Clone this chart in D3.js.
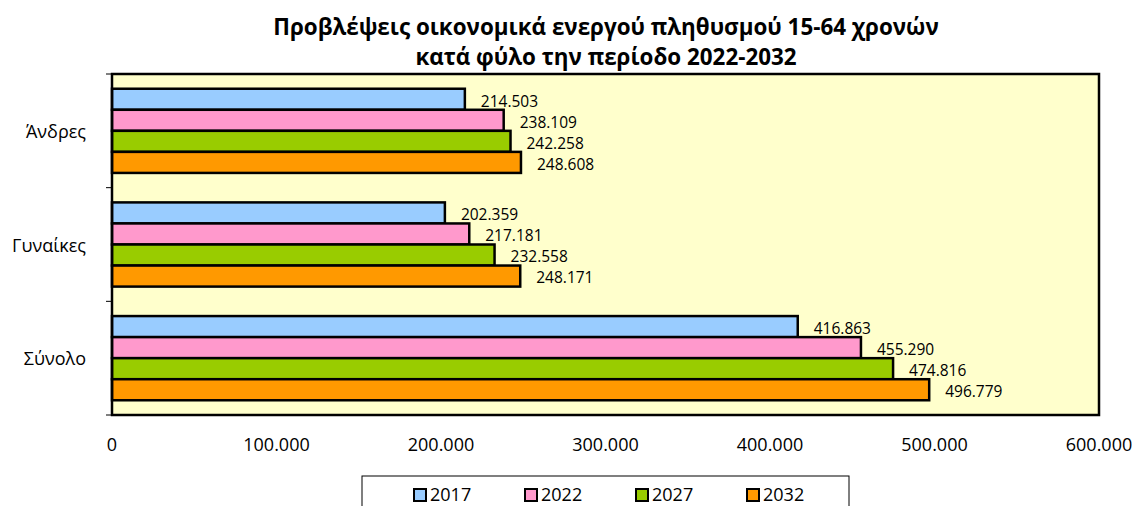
<!DOCTYPE html>
<html lang="el">
<head>
<meta charset="UTF-8">
<title>Προβλέψεις οικονομικά ενεργού πληθυσμού</title>
<script src="https://d3js.org/d3.v7.min.js"></script>
<style>
  body { margin: 0; background: #fff; }
  text { font-family: "Open Sans", "Noto Sans", sans-serif; fill: #000; }
</style>
</head>
<body>
<script>

// data
var categories = ["Άνδρες", "Γυναίκες", "Σύνολο"];
var years = ["2017", "2022", "2027", "2032"];
var v2017 = [214503, 202359, 416863];
var v2022 = [238109, 217181, 455290];
var v2027 = [242258, 232558, 474816];
var v2032 = [248608, 248171, 496779];
var xTicks = [0, 100000, 200000, 300000, 400000, 500000, 600000];
var colors = ["#99ccff", "#ff99cc", "#99cc00", "#ff9900"];

var seriesValues = [v2017, v2022, v2027, v2032];

var width = 1137,
    height = 506,
    plotL = 112, plotR = 1099, plotT = 74, plotB = 415;

var fmt = function(v) {
    return d3.format(",")(v).replace(/,/g, ".");
};
var fmtTick = function(v) {
    return v === 0 ? "0" : d3.format(",.0f")(v).replace(/,/g, ".");
};

var svg = d3.select("body").append("svg")
    .attr("width", width)
    .attr("height", height);

// title
var title = svg.append("text")
    .attr("text-anchor", "middle")
    .style("font-size", "22.4px")
    .style("font-weight", "bold");
title.append("tspan").attr("x", 606).attr("y", 35)
    .text("Προβλέψεις οικονομικά ενεργού πληθυσμού 15-64 χρονών");
title.append("tspan").attr("x", 606).attr("y", 65)
    .text("κατά φύλο την περίοδο 2022-2032");

var x = d3.scaleLinear().domain([0, 600000]).range([plotL, plotR]);
var y = d3.scaleBand().domain(categories).range([plotT, plotB]).paddingInner(0).paddingOuter(0);
var y1 = d3.scaleBand().domain(years).range([0, y.bandwidth()]).paddingOuter(0.7).paddingInner(0);

// plot area
svg.append("rect")
    .attr("x", plotL).attr("y", plotT)
    .attr("width", plotR - plotL).attr("height", plotB - plotT)
    .attr("fill", "#ffffcc");

// bars
var groups = svg.selectAll("g.cat")
    .data(categories)
    .enter().append("g")
    .attr("class", "cat")
    .attr("transform", function(d) { return "translate(0," + y(d) + ")"; });

groups.each(function(c, ci) {
    var g = d3.select(this);
    var rows = years.map(function(yr, si) {
        return { year: yr, value: seriesValues[si][ci], color: colors[si] };
    });
    g.selectAll("rect")
        .data(rows)
        .enter().append("rect")
        .attr("x", x(0))
        .attr("y", function(d) { return y1(d.year); })
        .attr("width", function(d) { return x(d.value) - x(0); })
        .attr("height", y1.bandwidth())
        .attr("fill", function(d) { return d.color; })
        .attr("stroke", "#000")
        .attr("stroke-width", 2.5);
    g.selectAll("text.lbl")
        .data(rows)
        .enter().append("text")
        .attr("class", "lbl")
        .attr("x", function(d) { return x(d.value) + 16; })
        .attr("y", function(d) { return y1(d.year) + y1.bandwidth() / 2 + 2; })
        .attr("dy", "0.35em")
        .style("font-size", "15.5px")
        .text(function(d) { return fmt(d.value); });
});

// plot border
svg.append("rect")
    .attr("x", plotL).attr("y", plotT)
    .attr("width", plotR - plotL).attr("height", plotB - plotT)
    .attr("fill", "none")
    .attr("stroke", "#000")
    .attr("stroke-width", 2.5);

// y axis ticks
var yTickPos = [plotT].concat(categories.map(function(c) { return y(c) + y.bandwidth(); }));
svg.selectAll("line.ytick")
    .data(yTickPos)
    .enter().append("line")
    .attr("x1", plotL - 6).attr("x2", plotL)
    .attr("y1", function(d) { return d; })
    .attr("y2", function(d) { return d; })
    .attr("stroke", "#000")
    .attr("stroke-width", 1);

svg.selectAll("text.catlbl")
    .data(categories)
    .enter().append("text")
    .attr("class", "catlbl")
    .attr("x", 86)
    .attr("y", function(d) { return y(d) + y.bandwidth() / 2 + 1; })
    .attr("dy", "0.35em")
    .attr("text-anchor", "end")
    .style("font-size", "18px")
    .text(function(d) { return d; });

// x tick labels
svg.selectAll("text.xt")
    .data(xTicks)
    .enter().append("text")
    .attr("class", "xt")
    .attr("x", function(d) { return x(d); })
    .attr("y", 445)
    .attr("dy", "0.35em")
    .attr("text-anchor", "middle")
    .style("font-size", "18px")
    .text(fmtTick);

// legend
var legend = svg.append("g");
legend.append("rect")
    .attr("x", 362).attr("y", 476)
    .attr("width", 487).attr("height", 40)
    .attr("fill", "#fff")
    .attr("stroke", "#000")
    .attr("stroke-width", 1);

var lx = d3.scalePoint().domain(years).range([414, 747]);
var items = legend.selectAll("g.li")
    .data(years)
    .enter().append("g")
    .attr("class", "li")
    .attr("transform", function(d) { return "translate(" + lx(d) + ",0)"; });
items.append("rect")
    .attr("x", 0).attr("y", 489)
    .attr("width", 12).attr("height", 12)
    .attr("fill", function(d, i) { return colors[i]; })
    .attr("stroke", "#000")
    .attr("stroke-width", 2);
items.append("text")
    .attr("x", 16).attr("y", 495)
    .attr("dy", "0.35em")
    .style("font-size", "18px")
    .text(function(d) { return d; });

</script>
</body>
</html>
